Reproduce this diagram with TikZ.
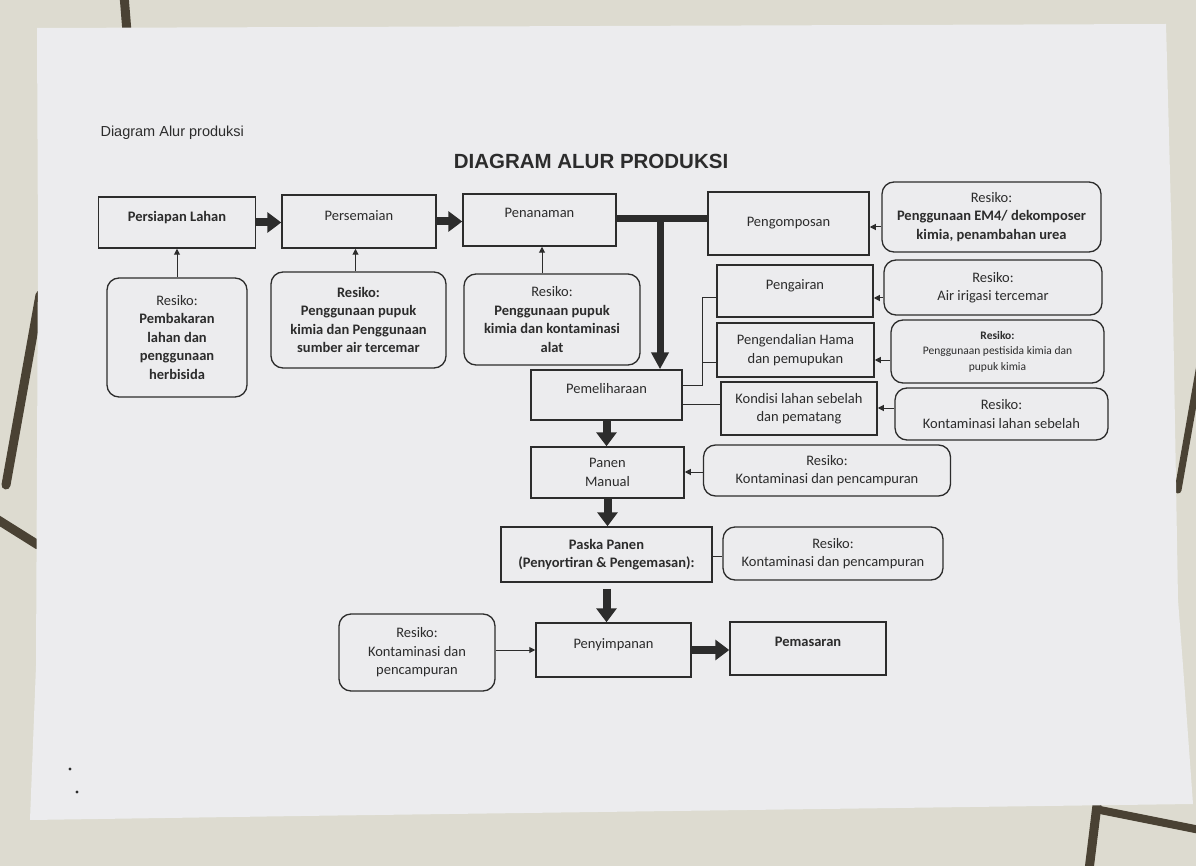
\documentclass[tikz,border=0pt]{standalone}
\usepackage{fontspec}
\setmainfont{Carlito}
\newfontfamily\arialf{Liberation Sans}
\usetikzlibrary{arrows.meta,calc}
\definecolor{ink}{HTML}{2C2C2C}
\definecolor{paper}{HTML}{ECECEE}
\definecolor{floor}{HTML}{DDDBD0}
\definecolor{grout}{HTML}{4A4234}
\begin{document}
\begin{tikzpicture}[x=1pt,y=-1pt,
  proc/.style={draw=ink, line width=1.5pt, text=ink, align=center, inner sep=1pt, font=\fontsize{14.5}{18.5}\selectfont},
  risk/.style={draw=ink, line width=1.3pt, rounded corners=12pt, text=ink, align=center, inner sep=1pt, font=\fontsize{14.5}{18.5}\selectfont},
  small/.style={font=\fontsize{11.5}{15.5}\selectfont},
  big/.style={draw=ink, line width=8pt, -{Triangle[length=14pt,width=20pt]}},
  bar/.style={draw=ink, line width=7pt},
  thin/.style={draw=ink, line width=1pt, -{Triangle[length=6pt,width=6pt]}},
  link/.style={draw=ink, line width=1pt},
  grt/.style={draw=grout, line cap=round, line width=9pt}
]
\useasboundingbox (0,0) rectangle (1196,866);
\fill[floor] (0,0) rectangle (1196,866);
% floor tile joints
\draw[grt] (124,-5) -- (127,32);
\draw[grt] (40,295) -- (6,485);
\draw[grt] (-5,518) -- (38,545);
\draw[grt,line width=7pt] (1200,365) -- (1178,490);
\draw[grt] (1089,870) -- (1097,805);
\draw[grt,line width=8pt] (1100,810) -- (1200,830);
% paper sheet
\fill[paper] (37,28) -- (1166,24) -- (1172,250) -- (1178,600) -- (1183,666) -- (1193,804) -- (300,816) -- (30,820) -- (36,666) -- (38,250) -- cycle;
\fill[ink] (70,769) circle (1.6);
\fill[ink] (77,792) circle (1.6);

% headings
\node[anchor=west, text=ink, font=\arialf\fontsize{14.5}{17}\selectfont] (sub) at (97,133) {Diagram Alur produksi};
\node[text=ink, font=\arialf\bfseries\fontsize{20.5}{24}\selectfont] (title) at (591,161) {DIAGRAM ALUR PRODUKSI};

% process boxes
\node[proc, minimum width=157pt, minimum height=51pt, text depth=13pt] (lahan) at (177,222.5) {\textbf{Persiapan Lahan}};
\node[proc, minimum width=154pt, minimum height=53pt, text depth=12pt] (semai) at (359,221.5) {Persemaian};
\node[proc, minimum width=153pt, minimum height=52pt, text depth=15pt] (tanam) at (539.5,220) {Penanaman};
\node[proc, minimum width=161pt, minimum height=63pt] (kompos) at (788.5,223.5) {Pengomposan};
\node[proc, minimum width=156pt, minimum height=52pt, text depth=13pt] (air) at (795,291) {Pengairan};
\node[proc, minimum width=157pt, minimum height=54pt] (hama) at (795.5,350) {Pengendalian Hama\\dan pemupukan};
\node[proc, minimum width=156pt, minimum height=53pt] (kondisi) at (799,408.5) {Kondisi lahan sebelah\\dan pematang};
\node[proc, minimum width=151pt, minimum height=50pt, text depth=13pt] (pelihara) at (606.5,395) {Pemeliharaan};
\node[proc, minimum width=153pt, minimum height=51pt] (panen) at (607.5,472.5) {Panen\\Manual};
\node[proc, minimum width=211pt, minimum height=55pt] (paska) at (606.5,554.5) {\textbf{Paska Panen}\\\textbf{(Penyortiran \& Pengemasan):}};
\node[proc, minimum width=155pt, minimum height=54pt, text depth=13pt] (simpan) at (613.5,650) {Penyimpanan};
\node[proc, minimum width=156pt, minimum height=53pt, text depth=14pt] (pasar) at (808,648.5) {\textbf{Pemasaran}};

% risk boxes
\node[risk, minimum width=140pt, minimum height=119pt] (r1) at (177,337.5) {Resiko:\\\textbf{Pembakaran}\\\textbf{lahan dan}\\\textbf{penggunaan}\\\textbf{herbisida}};
\node[risk, minimum width=175pt, minimum height=96pt] (r2) at (358.5,320) {\textbf{Resiko:}\\\textbf{Penggunaan pupuk}\\\textbf{kimia dan Penggunaan}\\\textbf{sumber air tercemar}};
\node[risk, minimum width=176pt, minimum height=91pt] (r3) at (552,319.5) {Resiko:\\\textbf{Penggunaan pupuk}\\\textbf{kimia dan kontaminasi}\\\textbf{alat}};
\node[risk, minimum width=219pt, minimum height=70pt] (r4) at (991.5,217) {Resiko:\\\textbf{Penggunaan EM4/ dekomposer}\\\textbf{kimia, penambahan urea}};
\node[risk, minimum width=218pt, minimum height=55pt] (r5) at (993,287.5) {Resiko:\\Air irigasi tercemar};
\node[risk, small, minimum width=213pt, minimum height=63pt] (r6) at (997.5,351.5) {\textbf{Resiko:}\\Penggunaan pestisida kimia dan\\pupuk kimia};
\node[risk, minimum width=213pt, minimum height=52pt] (r7) at (1001.5,414) {Resiko:\\Kontaminasi lahan sebelah};
\node[risk, minimum width=247pt, minimum height=51pt] (r8) at (827,470.5) {Resiko:\\Kontaminasi dan pencampuran};
\node[risk, minimum width=220pt, minimum height=53pt] (r9) at (833,553.5) {Resiko:\\Kontaminasi dan pencampuran};
\node[risk, minimum width=156pt, minimum height=77pt] (r10) at (417,652.5) {Resiko:\\Kontaminasi dan\\pencampuran};

% main flow
\draw[big] (lahan.east) -- (lahan.east -| semai.west);
\draw[big] (semai.east) -- (semai.east -| tanam.west);
\draw[bar] (tanam.east |- 0,219) -- (kompos.west |- 0,219);
\coordinate (split) at (660,219);
\draw[big, line width=7pt, -{Triangle[length=17pt,width=17pt]}] (split) -- (split |- pelihara.north);
\draw[big] (pelihara.south) -- (pelihara.south |- panen.north);
\draw[big] (panen.south) -- (panen.south |- paska.north);
\draw[big, shorten <=6pt] (paska.south) -- (paska.south |- simpan.north);
\draw[big] (simpan.east) -- (simpan.east -| pasar.west);

% maintenance branches
\coordinate (bus) at (702,385);
\draw[link] (pelihara.east |- 0,385) -- (bus) |- (air.west |- 0,298);
\draw[link] (bus |- 0,362) -- (hama.west |- 0,362);
\draw[link] (pelihara.east |- 0,404) -- (kondisi.west |- 0,404);

% risk arrows
\draw[thin] (r1.north) -- (r1.north |- lahan.south);
\draw[thin] (r2.north -| 355.5,0) -- (lahan.south -| 355.5,0);
\draw[thin] (r3.north -| 542,0) -- (tanam.south -| 542,0);
\draw[thin] (r4.west |- 0,227) -- (kompos.east |- 0,227);
\draw[thin] (r5.west |- 0,298) -- (air.east |- 0,298);
\draw[thin] (r6.west |- 0,360) -- (hama.east |- 0,360);
\draw[thin] (r7.west |- 0,408) -- (kondisi.east |- 0,408);
\draw[thin] (r8.west |- 0,472) -- (panen.east |- 0,472);
\draw[link] (paska.east |- 0,556) -- (r9.west |- 0,556);
\draw[thin] (r10.east |- 0,650) -- (simpan.west |- 0,650);
\end{tikzpicture}
\end{document}
